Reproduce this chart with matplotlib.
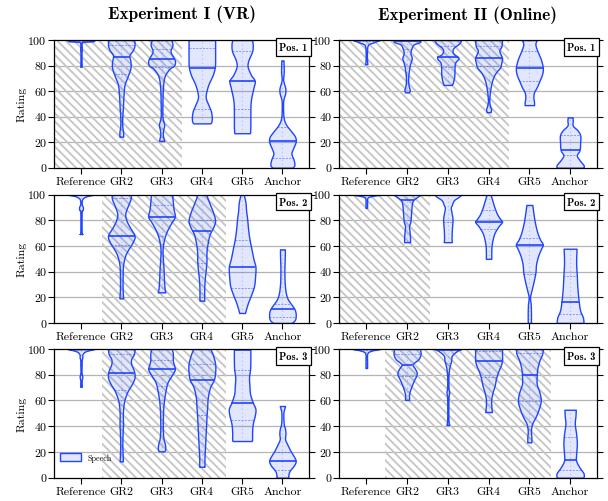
import numpy as np
import matplotlib
matplotlib.use("Agg")
import matplotlib.pyplot as plt
from matplotlib.patches import Patch

plt.rcParams['axes.formatter.use_mathtext'] = True
plt.rcParams['hatch.linewidth'] = 1.3

categories = ["Reference", "GR2", "GR3", "GR4", "GR5", "Anchor"]
col_titles = ["Experiment I (VR)", "Experiment II (Online)"]
pos_labels = ["Pos. 1", "Pos. 2", "Pos. 3"]
yticks = [0, 20, 40, 60, 80, 100]

# ---- Experiment I, Pos. 1 : violin outline (rating levels, relative widths) ----
e1p1_levels = [
    [100, 99, 98.5, 97, 93, 90, 85, 79],
    [100, 96, 92, 88, 83, 78, 71, 65, 57, 46.5, 38.6, 32, 28, 24.3],
    [100, 96, 92, 89.6, 84, 80, 78, 74, 70, 62, 52, 41, 37, 33.4, 29.5, 25.6, 21],
    [100, 93, 86, 79, 72.6, 65, 58, 54, 49, 44, 38.6, 35.5, 34.7],
    [100, 96, 91, 84, 79, 72.6, 68, 62, 52, 41, 33, 28, 27],
    [84, 75, 68.7, 62, 58, 53, 46.5, 38.6, 33.4, 28, 24.3, 20.4, 15, 11, 6, 2, 0],
]
e1p1_widths = [
    [1.0, 0.9, 0.15, 0.05, 0.06, 0.04, 0.04, 0.05],
    [0.97, 1.0, 0.87, 0.62, 0.69, 0.69, 0.46, 0.25, 0.17, 0.12, 0.07, 0.08, 0.14, 0.14],
    [0.75, 0.82, 0.68, 0.72, 1.0, 0.94, 0.65, 0.35, 0.19, 0.1, 0.07, 0.06, 0.12, 0.2, 0.12, 0.1, 0.2],
    [1.0, 1.0, 1.0, 0.98, 0.82, 0.49, 0.31, 0.31, 0.5, 0.69, 0.75, 0.7, 0.6],
    [0.75, 0.8, 0.75, 0.47, 0.42, 0.67, 0.95, 0.84, 0.65, 0.62, 0.62, 0.6, 0.58],
    [0.08, 0.1, 0.06, 0.22, 0.2, 0.07, 0.05, 0.1, 0.3, 0.7, 0.95, 1.0, 0.8, 0.68, 0.85, 0.9, 0.75],
]
e1p1_median = [100, 86.5, 85, 77.8, 67.9, 20.9]
e1p1_q1 = [99.5, 73, 79, 46, 46, 7.3]
e1p1_q3 = [100, 96, 93, 94, 91, 32]

# ---- Experiment II, Pos. 1 ----
e2p1_levels = [
    [100, 98, 96, 90, 85, 81],
    [100, 98.4, 96.6, 94, 90, 86, 83.7, 80, 74.6, 69, 64, 61, 59],
    [100, 97.4, 94, 91.5, 89, 86, 82.4, 78.5, 72, 66.8, 64.8],
    [100, 95, 91.5, 86, 82.4, 78.5, 74.6, 70.7, 65.5, 59, 52.6, 48.7, 46, 43.5],
    [100, 96.6, 91.4, 85, 78.5, 73.3, 68, 63, 59, 55, 51.3, 49],
    [39.4, 37, 33, 29.3, 25.4, 20, 13.7, 9.8, 6, 2, 0],
]
e2p1_widths = [
    [1.0, 0.5, 0.12, 0.05, 0.05, 0.08],
    [1.0, 0.95, 0.5, 0.35, 0.25, 0.35, 0.3, 0.2, 0.12, 0.08, 0.12, 0.2, 0.15],
    [1.0, 0.85, 0.45, 0.35, 0.45, 0.8, 0.55, 0.5, 0.48, 0.38, 0.3],
    [1.0, 0.95, 0.8, 1.0, 0.95, 0.85, 0.55, 0.35, 0.2, 0.1, 0.05, 0.1, 0.18, 0.15],
    [0.55, 0.45, 0.6, 0.85, 1.0, 0.95, 0.75, 0.55, 0.35, 0.3, 0.35, 0.35],
    [0.18, 0.2, 0.2, 0.55, 0.75, 0.75, 0.7, 0.5, 0.7, 1.0, 1.0],
]
e2p1_median = [100, 99, 86.3, 86, 77.7, 14.2]
e2p1_q1 = [99.5, 93, 78.5, 80, 67.6, 9.8]
e2p1_q3 = [100, 100, 95, 95, 91, 25.4]

# ---- Experiment I, Pos. 2 ----
e1p2_levels = [
    [100, 98.7, 96.6, 93, 91, 89.6, 88, 86, 70, 69.4],
    [100, 96.6, 91.4, 85, 79.7, 74.5, 68, 62.8, 57.7, 52.5, 44.7, 34, 26.5, 19.2],
    [100, 94, 88.8, 82.9, 78.4, 72, 65.5, 57.7, 49.9, 42, 34.3, 27.8, 23.9],
    [100, 96.6, 91.4, 86, 79.7, 74.5, 69.4, 62.9, 55, 48.6, 42, 34.3, 26.5, 17.4],
    [100, 94, 87.5, 81, 73.2, 65.5, 57.7, 50, 43.9, 36.9, 29, 22.6, 16, 11, 7.8],
    [57.4, 52.5, 42, 31.7, 23.9, 18.7, 14.8, 11, 7, 2.6, 0],
]
e1p2_widths = [
    [1.0, 0.4, 0.1, 0.05, 0.12, 0.15, 0.12, 0.05, 0.05, 0.1],
    [0.72, 0.7, 0.5, 0.3, 0.4, 0.65, 1.0, 0.85, 0.55, 0.3, 0.13, 0.1, 0.1, 0.14],
    [0.8, 0.85, 0.9, 1.0, 0.75, 0.42, 0.2, 0.08, 0.1, 0.15, 0.18, 0.22, 0.28],
    [0.35, 0.45, 0.65, 0.85, 1.0, 0.85, 0.6, 0.45, 0.35, 0.35, 0.3, 0.22, 0.18, 0.18],
    [0.12, 0.25, 0.3, 0.38, 0.45, 0.55, 0.7, 0.85, 1.0, 0.98, 0.9, 0.7, 0.45, 0.3, 0.22],
    [0.18, 0.18, 0.15, 0.17, 0.25, 0.4, 0.65, 0.9, 1.0, 0.95, 0.7],
]
e1p2_median = [100, 67.8, 82.7, 72, 43.6, 11.3]
e1p2_q1 = [99.5, 60.8, 68, 46.8, 27, 4.8]
e1p2_q3 = [100, 97.4, 92, 80.5, 64.7, 15]

# ---- Experiment II, Pos. 2 ----
e2p2_levels = [
    [100, 98.7, 97.4, 93, 89.7],
    [100, 98.2, 95.6, 92, 85.8, 79.3, 75.5, 71.6, 66.4, 63],
    [100, 98.2, 95.6, 92, 89.7, 85.8, 80.6, 72.9, 66.4, 63],
    [100, 94.8, 89.7, 84.5, 80.6, 78.8, 75.5, 70.3, 65, 60, 54.8, 50],
    [92, 85.8, 78, 70.3, 65, 61.2, 57.4, 52.2, 45.7, 39.3, 31.5, 25, 20, 14.7, 8.3, 0],
    [57.9, 47, 36.7, 26.4, 16, 9.6, 4.4, 0],
]
e2p2_widths = [
    [1.0, 0.3, 0.08, 0.06, 0.06],
    [1.0, 0.75, 0.45, 0.35, 0.3, 0.25, 0.15, 0.18, 0.22, 0.22],
    [1.0, 0.8, 0.45, 0.3, 0.22, 0.28, 0.35, 0.3, 0.28, 0.3],
    [0.15, 0.3, 0.45, 0.65, 0.9, 1.0, 0.75, 0.45, 0.3, 0.22, 0.2, 0.2],
    [0.22, 0.3, 0.42, 0.6, 0.8, 1.0, 0.85, 0.65, 0.5, 0.45, 0.3, 0.15, 0.05, 0.1, 0.12, 0.12],
    [0.48, 0.45, 0.5, 0.55, 0.65, 0.75, 0.95, 1.0],
]
e2p2_median = [100, 96, 99.5, 78.8, 60.7, 16.5]
e2p2_q1 = [99.5, 80, 79, 73.4, 38.5, 7]
e2p2_q3 = [100, 100, 100, 88.4, 66, 36.7]

# ---- Experiment I, Pos. 3 ----
e1p3_levels = [
    [100, 98.2, 96, 93.5, 91, 88.4, 82, 78.5, 75.4, 70.7],
    [100, 96, 92.2, 88.3, 83, 78, 72.8, 67.6, 62.4, 57.3, 49.5, 41.7, 34, 26, 18.4, 12.7],
    [100, 96, 91, 87, 84, 79.3, 74, 67.6, 59.8, 52, 44.3, 36.5, 30, 26.2, 22.3, 20.5],
    [100, 94.8, 88.3, 81.9, 76, 70.2, 62.4, 54.7, 47, 36.5, 26.2, 15.8, 8.5],
    [99.5, 91, 84.5, 78, 71.5, 65, 58.5, 53.4, 48.2, 41.7, 35.2, 30, 28.5],
    [55.7, 52, 48, 41.7, 37.8, 34, 30, 26.2, 21, 15.8, 12.7, 9.3, 5.4, 2.3, 0],
]
e1p3_widths = [
    [1.0, 0.35, 0.12, 0.1, 0.05, 0.05, 0.04, 0.1, 0.05, 0.06],
    [1.0, 0.95, 0.75, 0.75, 0.95, 1.0, 0.8, 0.5, 0.3, 0.18, 0.12, 0.13, 0.1, 0.08, 0.1, 0.12],
    [0.78, 0.85, 0.85, 0.95, 1.0, 0.75, 0.45, 0.3, 0.18, 0.12, 0.1, 0.1, 0.15, 0.25, 0.28, 0.2],
    [0.65, 0.85, 1.0, 1.0, 0.9, 0.62, 0.45, 0.4, 0.35, 0.3, 0.25, 0.2, 0.2],
    [0.62, 0.62, 0.6, 0.52, 0.55, 0.6, 0.8, 1.0, 0.95, 0.8, 0.75, 0.75, 0.72],
    [0.2, 0.1, 0.07, 0.1, 0.2, 0.23, 0.2, 0.35, 0.6, 0.9, 1.0, 0.85, 0.55, 0.45, 0.45],
]
e1p3_median = [100, 81.7, 84.2, 75.9, 58, 12.7]
e1p3_q1 = [99.5, 68, 71, 49, 45, 6.2]
e1p3_q3 = [100, 96, 91.5, 88.3, 84, 20]

# ---- Experiment II, Pos. 3 ----
e2p3_levels = [
    [100, 98.7, 96.6, 90, 85.2],
    [100, 96, 92.2, 89.6, 87.8, 84.5, 80.6, 75.4, 70.2, 65, 62.4, 60.4],
    [100, 98.2, 94.8, 91, 85.8, 79.3, 70, 66.3, 62.4, 52, 44.3, 41],
    [100, 96, 91, 87, 82, 76.7, 71.5, 66.3, 61, 56, 51],
    [100, 96, 91, 85, 79.3, 72.8, 66.3, 59.8, 53.4, 46.9, 41.7, 36.5, 31.3, 27.5],
    [52.8, 48.2, 41.7, 34, 26.2, 18.4, 13.2, 8, 3.4, 0],
]
e2p3_widths = [
    [1.0, 0.4, 0.08, 0.06, 0.06],
    [0.97, 1.0, 0.85, 0.55, 0.4, 0.6, 0.72, 0.5, 0.3, 0.15, 0.15, 0.15],
    [1.0, 0.65, 0.3, 0.25, 0.12, 0.05, 0.05, 0.1, 0.05, 0.04, 0.05, 0.1],
    [1.0, 1.0, 1.0, 0.9, 0.7, 0.55, 0.45, 0.3, 0.2, 0.2, 0.25],
    [1.0, 0.95, 0.75, 0.6, 0.55, 0.55, 0.75, 0.85, 0.7, 0.45, 0.2, 0.12, 0.15, 0.15],
    [0.42, 0.4, 0.35, 0.45, 0.5, 0.45, 0.45, 0.7, 1.0, 1.0],
]
e2p3_median = [100, 87.8, 99.5, 90.4, 79.5, 14]
e2p3_q1 = [99.5, 79.3, 89, 78, 59.8, 6]
e2p3_q3 = [100, 96, 100, 98.7, 97, 32]

# hatched (shaded) category ranges per panel [row][col]
hatch_start = [[-1.0, -1.0], [0.53, -1.0], [0.53, 0.47]]
hatch_end = [[2.5, 3.5], [3.6, 1.57], [3.6, 4.52]]

panels = [
    [(e1p1_levels, e1p1_widths, e1p1_median, e1p1_q1, e1p1_q3),
     (e2p1_levels, e2p1_widths, e2p1_median, e2p1_q1, e2p1_q3)],
    [(e1p2_levels, e1p2_widths, e1p2_median, e1p2_q1, e1p2_q3),
     (e2p2_levels, e2p2_widths, e2p2_median, e2p2_q1, e2p2_q3)],
    [(e1p3_levels, e1p3_widths, e1p3_median, e1p3_q1, e1p3_q3),
     (e2p3_levels, e2p3_widths, e2p3_median, e2p3_q1, e2p3_q3)],
]

EDGE = '#1f45ff'
FILL = (0.12, 0.3, 1.0, 0.13)
HALF = 0.33
RM = 'cmr10'
BF = 'cmb10'


def smooth_outline(yk, wk, sub=10):
    """Catmull-Rom curve through the outline knots (drawing only)."""
    pts = np.column_stack([yk, wk])
    ext = np.vstack([pts[0], pts, pts[-1]])
    out = []
    t = np.linspace(0, 1, sub, endpoint=False)[:, None]
    for k in range(1, len(ext) - 2):
        p0, p1, p2, p3 = ext[k - 1], ext[k], ext[k + 1], ext[k + 2]
        seg = 0.5 * ((2 * p1) + (-p0 + p2) * t + (2 * p0 - 5 * p1 + 4 * p2 - p3) * t ** 2
                     + (-p0 + 3 * p1 - 3 * p2 + p3) * t ** 3)
        out.append(seg)
    out.append(pts[-1][None, :])
    out = np.vstack(out)
    ys = np.clip(out[:, 0], min(yk), max(yk))
    ws = np.maximum(out[:, 1], 0.03)
    return ys, ws


W, H = 608, 502
fig = plt.figure(figsize=(W / 100, H / 100), dpi=100)

col_x = [(54, 309), (339, 597)]
row_y = [(41, 168.7), (195.7, 324), (350, 478.7)]

for r in range(3):
    for c in range(2):
        x0, x1 = col_x[c]
        y0, y1 = row_y[r]
        ax = fig.add_axes([x0 / W, 1 - y1 / H, (x1 - x0) / W, (y1 - y0) / H])
        ax.set_xlim(-0.67, 5.66)
        ax.set_ylim(0, 100)
        for yv in yticks[1:-1]:
            ax.axhline(yv, color='#b4b4b4', lw=0.9, zorder=0.3)
        ax.axvspan(hatch_start[r][c], hatch_end[r][c], facecolor='none',
                   edgecolor='#c4c4c4', hatch='\\\\\\\\', lw=0, zorder=0.5)
        levels, widths, med, q1, q3 = panels[r][c]
        for i in range(len(categories)):
            ys, ws = smooth_outline(np.array(levels[i], float), np.array(widths[i], float))
            ws = ws * HALF
            ax.fill_betweenx(ys, i - ws, i + ws, facecolor=FILL, edgecolor=EDGE,
                             lw=1.0, zorder=2)
            ax.vlines(i, ys.min(), ys.max(), colors=EDGE, linestyles=(0, (0.6, 3.0)),
                      lw=0.8, alpha=0.45, zorder=2.5)
            order = np.argsort(ys)
            ys_sorted = ys[order]
            ws_sorted = ws[order]
            for q in (q1[i], q3[i]):
                hw = np.interp(q, ys_sorted, ws_sorted)
                ax.hlines(q, i - hw, i + hw, colors=EDGE, linestyles=(0, (2.5, 1.5)),
                          lw=0.6, alpha=0.55, zorder=3)
            hw = np.interp(med[i], ys_sorted, ws_sorted)
            ax.hlines(med[i], i - hw, i + hw, colors=EDGE, lw=1.2, zorder=3)

        ax.set_xticks(range(len(categories)))
        ax.set_xticklabels(categories, fontfamily=RM, fontsize=8.6)
        ax.set_yticks(yticks)
        ax.set_yticklabels([str(v) for v in yticks], fontfamily=RM, fontsize=8.6)
        ax.tick_params(axis='y', which='both', left=True, right=True, direction='out',
                       length=4, width=0.8, pad=1.5)
        ax.tick_params(axis='x', direction='out', length=4, width=0.8, pad=2)
        for s in ax.spines.values():
            s.set_linewidth(0.9)
            s.set_zorder(5)
        ax.text(0.995, 0.985, pos_labels[r], transform=ax.transAxes, ha='right', va='top',
                fontfamily=BF, fontsize=7.6, zorder=6,
                bbox=dict(boxstyle='square,pad=0.35', facecolor='white',
                          edgecolor='black', linewidth=0.9))
        if c == 0:
            ax.set_ylabel('Rating', fontfamily=RM, fontsize=8.6, labelpad=1)
        if r == 2 and c == 0:
            handle = Patch(facecolor=FILL, edgecolor=EDGE, lw=1.0, label='Speech')
            ax.legend(handles=[handle], loc='lower left', frameon=False,
                      prop={'family': RM, 'size': 5.8},
                      bbox_to_anchor=(0.0, 0.08), handlelength=2.6,
                      handleheight=1.1, borderaxespad=0.3)

fig.text((54 + 309) / 2 / W, 1 - 14 / H, col_titles[0], ha='center', va='center',
         fontfamily=BF, fontsize=12.5)
fig.text((339 + 597) / 2 / W, 1 - 15 / H, col_titles[1], ha='center', va='center',
         fontfamily=BF, fontsize=12.5)

fig.savefig('out.png', dpi=100)
